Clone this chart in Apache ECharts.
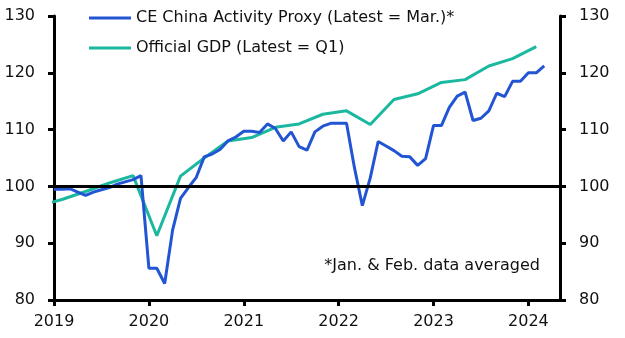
<!DOCTYPE html>
<html>
<head>
<meta charset="utf-8">
<script src="https://cdn.jsdelivr.net/npm/echarts@6/dist/echarts.min.js"></script>
<style>
  html, body { margin: 0; padding: 0; background: #fff; }
  #chart { width: 625px; height: 338px; }
</style>
</head>
<body>
<div id="chart"></div>
<script>
// CE China Activity Proxy, monthly from Jan 2019 (Jan & Feb averaged)
const proxyStart = { year: 2019, month: 1 };
const proxyValues = [
  99.5, 99.5, 99.6, 99.0, 98.4, 99.0, 99.4, 99.8, 100.4, 100.8, 101.2, 101.9,   // 2019
  85.6, 85.6, 82.9, 92.3, 97.9, 99.8, 101.6, 105.2, 105.7, 106.5, 108.0, 108.7, // 2020
  109.7, 109.7, 109.5, 111.0, 110.2, 108.0, 109.6, 107.0, 106.4, 109.6, 110.6, 111.1, // 2021
  111.1, 111.1, 103.3, 96.6, 101.5, 107.9, 107.1, 106.3, 105.3, 105.2, 103.7, 104.9, // 2022
  110.7, 110.7, 113.9, 115.9, 116.6, 111.6, 112.0, 113.3, 116.4, 115.8, 118.5, 118.5, // 2023
  120.0, 120.0, 121.2                                                            // 2024
];

// Official GDP index, quarterly, plotted at the middle month of each quarter
const gdpQuarters = [
  '2018Q4',
  '2019Q1', '2019Q2', '2019Q3', '2019Q4',
  '2020Q1', '2020Q2', '2020Q3', '2020Q4',
  '2021Q1', '2021Q2', '2021Q3', '2021Q4',
  '2022Q1', '2022Q2', '2022Q3', '2022Q4',
  '2023Q1', '2023Q2', '2023Q3', '2023Q4',
  '2024Q1'
];
const gdpValues = [
  96.5,
  97.7, 99.1, 100.6, 101.9,
  91.3, 101.8, 105.0, 108.0,
  108.6, 110.4, 111.0, 112.7,
  113.3, 110.9, 115.3, 116.3,
  118.3, 118.8, 121.2, 122.5,
  124.6
];

const yearTicks = [2019, 2020, 2021, 2022, 2023, 2024];
const yTicks = [80, 90, 100, 110, 120, 130];

// months elapsed since Jan 2019
function monthIndex(year, month) {
  return (year - 2019) * 12 + (month - 1);
}
const proxyData = proxyValues.map((v, i) =>
  [monthIndex(proxyStart.year, proxyStart.month) + i, v]);
const gdpData = gdpQuarters.map((q, i) => {
  const y = parseInt(q.slice(0, 4), 10);
  const qn = parseInt(q.slice(5), 10);
  return [monthIndex(y, (qn - 1) * 3 + 2), gdpValues[i]];
});

const BLUE = '#2255d3';
const TEAL = '#1bb8a0';
const FONT = '"DejaVu Sans", "Noto Sans", sans-serif';

const chart = echarts.init(document.getElementById('chart'), null, { renderer: 'canvas' });

const yAxisCommon = {
  type: 'value',
  min: yTicks[0],
  max: yTicks[yTicks.length - 1],
  interval: 10,
  axisLine: { show: true, lineStyle: { color: '#000', width: 3 } },
  axisTick: { show: true, length: 6, lineStyle: { color: '#000', width: 3 } },
  axisLabel: { color: '#111', fontSize: 16, fontFamily: FONT, margin: 19 },
  splitLine: { show: false }
};

chart.setOption({
  animation: false,
  backgroundColor: '#fff',
  grid: { left: 54, right: 65, top: 16, bottom: 38, containLabel: false },
  legend: {
    orient: 'vertical',
    left: 89,
    top: 7,
    padding: 0,
    icon: 'rect',
    itemWidth: 42,
    itemHeight: 3,
    itemGap: 8,
    textStyle: { color: '#111', fontSize: 16, fontFamily: FONT, lineHeight: 22 },
    data: ['CE China Activity Proxy (Latest = Mar.)*', 'Official GDP (Latest = Q1)']
  },
  xAxis: {
    type: 'value',
    min: 0,
    max: 64,
    interval: 12,
    axisLine: { show: true, onZero: false, lineStyle: { color: '#000', width: 3 } },
    axisTick: { show: true, length: 6, lineStyle: { color: '#000', width: 3 } },
    axisLabel: {
      color: '#111', fontSize: 16, fontFamily: FONT, margin: 14,
      showMaxLabel: false,
      formatter: v => (v % 12 === 0 ? String(yearTicks[0] + v / 12) : '')
    },
    splitLine: { show: false }
  },
  yAxis: [
    Object.assign({}, yAxisCommon, { position: 'left' }),
    Object.assign({}, yAxisCommon, { position: 'right', axisLabel: Object.assign({}, yAxisCommon.axisLabel, { margin: 19 }) })
  ],
  graphic: [{
    type: 'text',
    right: 85,
    top: 258,
    style: {
      text: '*Jan. & Feb. data averaged',
      fill: '#111',
      font: '16px ' + FONT
    }
  }],
  series: [
    {
      name: 'CE China Activity Proxy (Latest = Mar.)*',
      type: 'line',
      data: proxyData,
      showSymbol: false,
      symbol: 'none',
      lineStyle: { color: BLUE, width: 3 },
      itemStyle: { color: BLUE },
      z: 3,
      markLine: {
        silent: true,
        symbol: 'none',
        label: { show: false },
        lineStyle: { color: '#000', width: 3, type: 'solid' },
        data: [{ yAxis: 100 }]
      }
    },
    {
      name: 'Official GDP (Latest = Q1)',
      type: 'line',
      data: gdpData,
      showSymbol: false,
      symbol: 'none',
      lineStyle: { color: TEAL, width: 3 },
      itemStyle: { color: TEAL },
      z: 2
    }
  ]
});
</script>
</body>
</html>
